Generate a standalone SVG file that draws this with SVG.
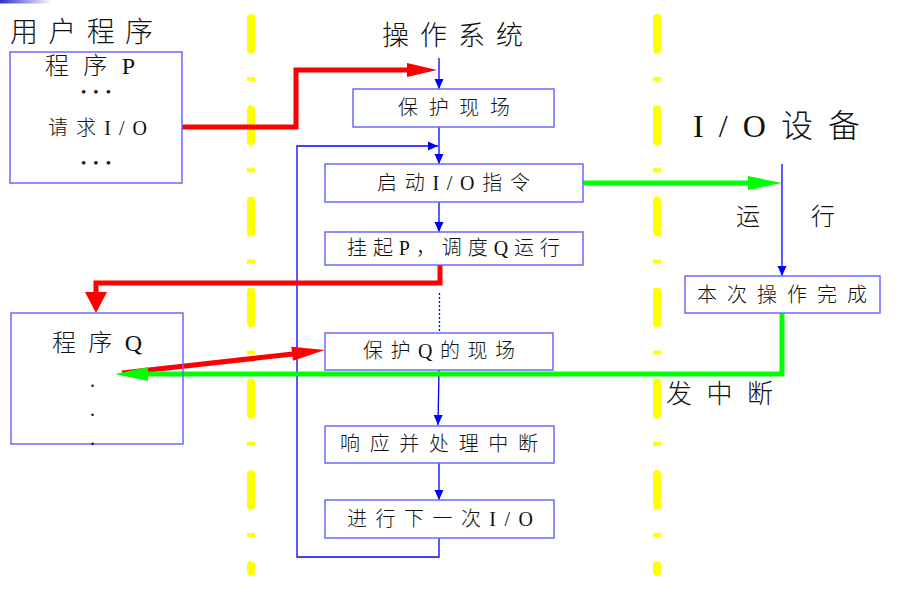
<svg xmlns="http://www.w3.org/2000/svg" width="906" height="599" viewBox="0 0 906 599">
<defs>
<linearGradient id="bar" x1="0" y1="0" x2="1" y2="0">
<stop offset="0" stop-color="#3030c8"/>
<stop offset="1" stop-color="#ffffff"/>
</linearGradient>
<marker id="ah" markerUnits="userSpaceOnUse" markerWidth="10" markerHeight="12" viewBox="0 0 10 12" refX="10" refY="6" orient="auto">
<path d="M0,1.5 L10,6 L0,10.5 Z" fill="#0000ff"/>
</marker>
<style>
.t{font-family:"Liberation Serif","Noto Sans CJK SC",serif;fill:#111;font-weight:300;}
.box{fill:#fff;stroke:#6a6aff;stroke-width:1.5;}
.bl{fill:none;stroke:#0000ff;stroke-width:1.3;}
.red{fill:none;stroke:#ff0000;stroke-width:5;stroke-linejoin:miter;}
.grn{fill:none;stroke:#00ff00;stroke-width:5;stroke-linejoin:miter;}
.ydash{stroke:#ffff00;stroke-width:8;stroke-linecap:round;stroke-dasharray:32 59.2;}
.ydot{stroke:#ffff00;stroke-width:8;stroke-dasharray:4 87.2;}
</style>
</defs>
<rect x="0" y="0" width="906" height="599" fill="#fff"/>
<rect x="0" y="0" width="52" height="3.5" fill="url(#bar)"/>

<g id="dividers">
<line class="ydash" x1="251" y1="18" x2="251" y2="572"/>
<line class="ydot" x1="251" y1="77" x2="251" y2="560"/>
<line class="ydash" x1="657" y1="18" x2="657" y2="572"/>
<line class="ydot" x1="657" y1="77" x2="657" y2="560"/>
</g>

<g id="titles">
<text class="t" x="10" y="42" font-size="28" textLength="143" lengthAdjust="spacing">用户程序</text>
<text class="t" x="382" y="44.5" font-size="27" textLength="141" lengthAdjust="spacing">操作系统</text>
<text class="t" x="693" y="137" font-size="32" textLength="167" lengthAdjust="spacing">I/O设备</text>
<text class="t" x="736" y="224.5" font-size="24">运</text>
<text class="t" x="811" y="224.5" font-size="24">行</text>
<text class="t" x="666" y="402.5" font-size="26" textLength="107" lengthAdjust="spacing">发中断</text>
</g>

<g id="connectors">
<line class="bl" x1="439" y1="58" x2="439" y2="89" marker-end="url(#ah)"/>
<line class="bl" x1="439" y1="127" x2="439" y2="164" marker-end="url(#ah)"/>
<line class="bl" x1="439" y1="202" x2="439" y2="232" marker-end="url(#ah)"/>
<line class="bl" x1="439.5" y1="293" x2="439.5" y2="333" stroke-dasharray="2 2"/>
<line class="bl" x1="439" y1="370" x2="438" y2="425" marker-end="url(#ah)"/>
<line class="bl" x1="439" y1="463" x2="439" y2="500" marker-end="url(#ah)"/>
<polyline class="bl" points="439,538 439,557 297,557 297,146 438,146" marker-end="url(#ah)"/>
<line class="bl" x1="782" y1="164" x2="782" y2="276" marker-end="url(#ah)"/>

<polyline class="red" points="152,127 296,127 296,70 408,70"/>
<polygon points="407,63 437,70 407,77" fill="#ff0000"/>
<polyline class="red" points="440,265 440,283 96,283 96,294"/>
<polygon points="85,292 107,292 96,313" fill="#ff0000"/>
<line class="red" x1="122" y1="373" x2="293" y2="354"/>
<polygon points="293,360.7 325,350 291.4,346.7" fill="#ff0000"/>

<line class="grn" x1="583" y1="183" x2="749" y2="183"/>
<polygon points="748,176 782,183 748,190" fill="#00ff00"/>
<polyline class="grn" points="782,313 782,374 147,374"/>
<polygon points="148,367 115,374 148,381" fill="#00ff00"/>
</g>

<g id="progP">
<rect class="box" x="10" y="52" width="172" height="131" stroke="#3a3aff"/>
<text class="t" x="45" y="73.5" font-size="24" textLength="90" lengthAdjust="spacing">程序P</text>
<text class="t" x="81" y="97" font-size="15" textLength="30" lengthAdjust="spacing">•••</text>
<text class="t" x="48" y="134.5" font-size="20" textLength="99" lengthAdjust="spacing">请求I/O</text>
<text class="t" x="81" y="168" font-size="15" textLength="30" lengthAdjust="spacing">•••</text>
</g>

<g id="progQ">
<rect class="box" x="11" y="313" width="172" height="131" style="fill:none" stroke="#3a3aff"/>
<text class="t" x="52" y="351" font-size="24" textLength="90" lengthAdjust="spacing">程序Q</text>
<text class="t" x="90" y="387" font-size="20" font-weight="bold">.</text>
<text class="t" x="90" y="416" font-size="20" font-weight="bold">.</text>
<text class="t" x="90" y="445" font-size="20" font-weight="bold">.</text>
</g>

<g id="save">
<rect class="box" x="353" y="89" width="201" height="38"/>
<text class="t" x="398" y="114.5" font-size="20" textLength="112" lengthAdjust="spacing">保护现场</text>
</g>
<g id="startio">
<rect class="box" x="325" y="164" width="258" height="38" stroke="#2a2aff"/>
<text class="t" x="377" y="189.5" font-size="20" textLength="153" lengthAdjust="spacing">启动I/O指令</text>
</g>
<g id="suspend">
<rect class="box" x="325" y="232" width="258" height="33" stroke="#2a2aff"/>
<text class="t" x="347" y="254.5" font-size="20" textLength="213" lengthAdjust="spacing">挂起P，调度Q运行</text>
</g>
<g id="saveQ">
<rect class="box" x="325" y="333" width="228" height="37"/>
<text class="t" x="363" y="357.5" font-size="20" textLength="152" lengthAdjust="spacing">保护Q的现场</text>
</g>
<g id="handle">
<rect class="box" x="325" y="426" width="229" height="37"/>
<text class="t" x="340" y="450.5" font-size="20" textLength="198" lengthAdjust="spacing">响应并处理中断</text>
</g>
<g id="nextio">
<rect class="box" x="325" y="500" width="229" height="38"/>
<text class="t" x="347" y="525.5" font-size="20" textLength="186" lengthAdjust="spacing">进行下一次I/O</text>
</g>
<g id="done">
<rect class="box" x="685" y="276" width="195" height="37" stroke="#2a2aff"/>
<text class="t" x="697" y="301.5" font-size="20" textLength="170" lengthAdjust="spacing">本次操作完成</text>
</g>
</svg>
